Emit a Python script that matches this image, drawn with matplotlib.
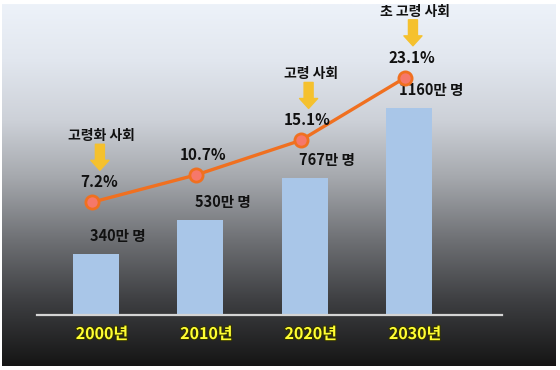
import numpy as np
import matplotlib
matplotlib.use("Agg")
import matplotlib.pyplot as plt
from matplotlib.colors import LinearSegmentedColormap
from matplotlib.transforms import offset_copy
import matplotlib.patheffects as pe

plt.rcParams['font.family'] = ['Noto Sans CJK KR', 'DejaVu Sans']

# data
years = ["2000년", "2010년", "2020년", "2030년"]
elderly_pop = [340, 530, 767, 1160]          # 만 명
elderly_ratio = [7.2, 10.7, 15.1, 23.1]      # %
stage_idx = [0, 2, 3]
stage_names = ["고령화 사회", "고령 사회", "초 고령 사회"]

fig = plt.figure(figsize=(5.6, 3.7), dpi=100)
fig.patch.set_facecolor("white")

# gradient background
bg = fig.add_axes([0, 0, 1, 1], zorder=0)
bg.set_xlim(0, 1)
bg.set_ylim(0, 1)
bg.axis("off")
grad_cmap = LinearSegmentedColormap.from_list(
    "bg", [(0.0, "#edf2f9"), (0.15, "#e2e7ef"), (0.32, "#cdd1d8"),
           (0.48, "#a5a8ad"), (0.65, "#6f7175"), (0.82, "#3e3f42"),
           (1.0, "#151515")])
grad = np.linspace(0, 1, 256).reshape(-1, 1)
bg.imshow(grad, cmap=grad_cmap, aspect="auto",
          extent=[2 / 560, 556 / 560, 4 / 370, 366 / 370])

ax = fig.add_axes([37 / 560, 55 / 370, 465 / 560, 310 / 370], zorder=1)
ax.patch.set_alpha(0)
x = np.arange(len(years))
ax.bar(x, elderly_pop, width=0.44, color="#a9c6e8", zorder=2)
ax.set_xlim(-0.566, 3.89)
ax.set_ylim(0, 1735)
for s in ["top", "left", "right"]:
    ax.spines[s].set_visible(False)
ax.spines["bottom"].set_color("#d4d4d4")
ax.spines["bottom"].set_linewidth(1.6)
ax.set_yticks([])
ax.set_xticks([])

for xi, v in zip(x, elderly_pop):
    ax.annotate(f"{v}만 명", xy=(xi, v), xytext=(22, 18),
                textcoords="offset pixels", ha="center", va="center",
                fontsize=10.5, fontweight="heavy", color="#111111")

for xi, lab in zip(x, years):
    ax.annotate(lab, xy=(xi, 0), xytext=(6, -19),
                textcoords="offset pixels", ha="center", va="center",
                fontsize=11.5, fontweight="heavy", color="#ffff33",
                path_effects=[pe.withStroke(linewidth=1.5, foreground="#333300")])

ax2 = ax.twinx()
ax2.set_ylim(-7.2, 32.4)
ax2.axis("off")
xl = x - 0.04
ax2.plot(xl, elderly_ratio, color="#f07020", lw=2.4, marker="o", ms=9.5,
         mfc="#f6786a", mec="#f07020", mew=2, zorder=3)

for xi, v in zip(xl, elderly_ratio):
    ax2.annotate(f"{v}%", xy=(xi, v), xytext=(7, 20),
                 textcoords="offset pixels", ha="center", va="center",
                 fontsize=11, fontweight="heavy", color="#111111")

for i, name in zip(stage_idx, stage_names):
    tip_tr = offset_copy(ax2.transData, fig=fig, x=8, y=32, units="dots")
    ax2.annotate("", xy=(xl[i], elderly_ratio[i]), xycoords=tip_tr,
                 xytext=(0, 26), textcoords="offset pixels",
                 arrowprops=dict(arrowstyle="simple,head_length=0.55,head_width=1.0,tail_width=0.5",
                                 color="#f5c12e", mutation_scale=13,
                                 shrinkA=0, shrinkB=0))
    ax2.annotate(name, xy=(xl[i], elderly_ratio[i]), xytext=(10, 66),
                 textcoords="offset pixels", ha="center", va="center",
                 fontsize=10, fontweight="heavy", color="#111111")

fig.savefig("out.png", dpi=100)
